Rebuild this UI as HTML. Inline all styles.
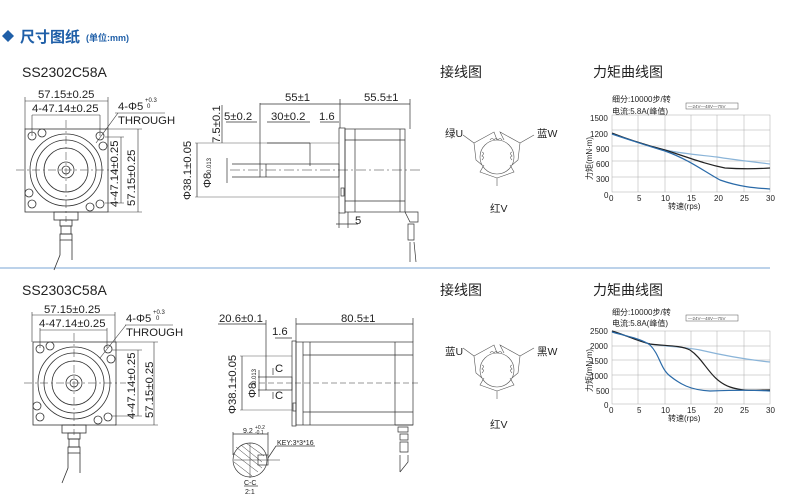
<!DOCTYPE html>
<html><head><meta charset="utf-8"><style>
html,body{margin:0;padding:0;background:#fff;}
svg{display:block;font-family:"Liberation Sans","Noto Sans CJK SC",sans-serif;}
</style></head><body>
<svg width="800" height="503" viewBox="0 0 800 503" xmlns="http://www.w3.org/2000/svg">
<defs>
<g id="front" fill="none" stroke="#333" stroke-width="0.8">
  <rect x="-41" y="-41" width="83" height="83"/>
  <circle r="36"/><circle r="30"/><circle r="22"/><circle r="8"/><circle r="4"/>
  <line x1="-50" y1="0" x2="52" y2="0" stroke-dasharray="8,3,2,3" stroke-width="0.5"/>
  <line x1="0" y1="-50" x2="0" y2="52" stroke-dasharray="8,3,2,3" stroke-width="0.5"/>
  <circle cx="-34" cy="-34" r="4"/><circle cx="34" cy="-34" r="4"/><circle cx="-34" cy="34" r="4"/><circle cx="34" cy="34" r="4"/>
  <circle cx="-24" cy="-37" r="4"/><circle cx="37" cy="-24" r="4"/><circle cx="-37" cy="23" r="4"/><circle cx="24" cy="37" r="4"/>
  <rect x="-12" y="42" width="24" height="8"/>
  <rect x="-6" y="50" width="12" height="6"/><rect x="-5" y="56" width="10" height="8"/><rect x="-6" y="64" width="12" height="6"/>
  <path d="M-6 70 L-6 85 L-12 100 M6 70 L6 90"/>
</g>
</defs>

<path d="M8 30 L14 36 L8 42 L2 36 Z" fill="#1f5fa8"/>
<text x="20" y="42" font-size="15" font-weight="bold" fill="#1f5fa8">尺寸图纸</text>
<text x="86" y="41" font-size="9" font-weight="bold" fill="#1f5fa8">(单位:mm)</text>
<line x1="0" y1="268" x2="770" y2="268" stroke="#7aa6d4" stroke-width="1"/>

<g font-size="14" fill="#222">
<text x="22" y="77">SS2302C58A</text>
<text x="440" y="77">接线图</text>
<text x="593" y="77">力矩曲线图</text>
<text x="22" y="295">SS2303C58A</text>
<text x="440" y="295">接线图</text>
<text x="593" y="295">力矩曲线图</text>
</g>

<use href="#front" x="66" y="170"/>
<g stroke="#333" stroke-width="0.6" fill="none">
<line x1="25" y1="97" x2="25" y2="129"/><line x1="108" y1="97" x2="108" y2="129"/>
<line x1="25" y1="101" x2="108" y2="101"/>
<line x1="32" y1="115" x2="32" y2="136"/><line x1="100" y1="115" x2="100" y2="136"/>
<line x1="32" y1="115" x2="100" y2="115"/>
<line x1="115" y1="113" x2="165" y2="113"/><line x1="118" y1="113" x2="96" y2="143"/>
<line x1="108" y1="129" x2="142" y2="129"/><line x1="108" y1="212" x2="142" y2="212"/>
<line x1="138" y1="129" x2="138" y2="212"/>
<line x1="105" y1="137" x2="124" y2="137"/><line x1="105" y1="203" x2="124" y2="203"/>
<line x1="121" y1="137" x2="121" y2="203"/>
</g>
<g font-size="11.3" fill="#222">
<text x="38" y="98">57.15±0.25</text>
<text x="32" y="112">4-47.14±0.25</text>
<text x="118" y="110">4-Φ5</text><text x="145" y="102" font-size="6">+0.3</text><text x="147" y="108" font-size="6">0</text>
<text x="118" y="124">THROUGH</text>
<text transform="translate(135,206) rotate(-90)">57.15±0.25</text>
<text transform="translate(118,207) rotate(-90)">4-47.14±0.25</text>
</g>

<g stroke="#333" stroke-width="0.7" fill="none">
<rect x="345" y="129" width="60" height="83"/>
<line x1="355" y1="129" x2="355" y2="212"/><line x1="400" y1="129" x2="400" y2="212"/>
<line x1="345" y1="140" x2="405" y2="140"/><line x1="345" y1="201" x2="405" y2="201"/>
<rect x="339" y="128" width="6" height="85"/>
<rect x="341" y="188" width="3" height="8"/>
<rect x="260" y="164" width="79" height="13"/>
<line x1="266" y1="164" x2="266" y2="177"/>
<line x1="267" y1="143" x2="310" y2="143"/><line x1="310" y1="143" x2="310" y2="166"/>
<line x1="232" y1="164" x2="260" y2="164"/><line x1="232" y1="177" x2="260" y2="177"/>
<line x1="195" y1="143" x2="339" y2="143" stroke-width="0.4"/>
<line x1="195" y1="197" x2="339" y2="197" stroke-width="0.4"/>
<line x1="197" y1="143" x2="197" y2="197"/><line x1="227" y1="158" x2="227" y2="183"/>
<line x1="222" y1="105" x2="222" y2="143"/>
<line x1="260" y1="103" x2="260" y2="164"/><line x1="340" y1="99" x2="340" y2="128"/><line x1="410" y1="99" x2="410" y2="129"/>
<line x1="260" y1="104" x2="340" y2="104"/><line x1="340" y1="104" x2="410" y2="104"/>
<line x1="226" y1="122" x2="257" y2="122"/><line x1="267" y1="122" x2="310" y2="122"/><line x1="320" y1="122" x2="339" y2="122"/>
<line x1="336" y1="224" x2="358" y2="224"/><line x1="339" y1="212" x2="339" y2="228"/><line x1="348" y1="212" x2="348" y2="228"/>
<line x1="230" y1="170" x2="420" y2="170" stroke-dasharray="10,3,2,3" stroke-width="0.5"/>
<path d="M405 212 L418 212 L418 222 L410 222 Z M408 224 L414 224 L414 240 L408 240 Z M410 242 L410 262 M414 242 L416 262"/>
</g>
<g font-size="11.3" fill="#222">
<text x="285" y="101">55±1</text><text x="364" y="101">55.5±1</text>
<text x="224" y="120">5±0.2</text><text x="271" y="120">30±0.2</text><text x="319" y="120">1.6</text>
<text transform="translate(220,143) rotate(-90)">7.5±0.1</text>
<text transform="translate(191,200) rotate(-90)">Φ38.1±0.05</text>
<text transform="translate(211,188) rotate(-90)">Φ8</text>
<text transform="translate(211,175) rotate(-90)" font-size="6">-0.013</text>
<text x="355" y="224">5</text>
</g>

<use href="#front" x="74" y="383"/>
<g stroke="#333" stroke-width="0.6" fill="none">
<line x1="32" y1="312" x2="32" y2="342"/><line x1="115" y1="312" x2="115" y2="342"/>
<line x1="32" y1="315" x2="115" y2="315"/>
<line x1="40" y1="328" x2="40" y2="348"/><line x1="107" y1="328" x2="107" y2="348"/>
<line x1="40" y1="330" x2="107" y2="330"/>
<line x1="125" y1="325" x2="173" y2="325"/><line x1="126" y1="325" x2="100" y2="358"/>
<line x1="115" y1="342" x2="158" y2="342"/><line x1="115" y1="425" x2="158" y2="425"/>
<line x1="154" y1="342" x2="154" y2="425"/>
<line x1="112" y1="350" x2="142" y2="350"/><line x1="112" y1="416" x2="142" y2="416"/>
<line x1="138" y1="350" x2="138" y2="416"/>
</g>
<g font-size="11.3" fill="#222">
<text x="44" y="313">57.15±0.25</text>
<text x="39" y="327">4-47.14±0.25</text>
<text x="126" y="322">4-Φ5</text><text x="153" y="314" font-size="6">+0.3</text><text x="156" y="320" font-size="6">0</text>
<text x="126" y="336">THROUGH</text>
<text transform="translate(153,418) rotate(-90)">57.15±0.25</text>
<text transform="translate(135,419) rotate(-90)">4-47.14±0.25</text>
</g>

<g stroke="#333" stroke-width="0.7" fill="none">
<rect x="296" y="342" width="117" height="83"/>
<line x1="303" y1="342" x2="303" y2="425"/><line x1="310" y1="342" x2="310" y2="425"/><line x1="395" y1="342" x2="395" y2="425"/>
<line x1="303" y1="355" x2="413" y2="355"/><line x1="303" y1="412" x2="413" y2="412"/>
<rect x="292" y="341" width="4" height="85"/>
<rect x="293" y="403" width="3" height="8"/>
<rect x="266" y="377" width="26" height="13"/>
<line x1="258" y1="377" x2="266" y2="377"/><line x1="258" y1="390" x2="266" y2="390"/>
<line x1="240" y1="356" x2="292" y2="356" stroke-width="0.4"/><line x1="240" y1="410" x2="292" y2="410" stroke-width="0.4"/>
<line x1="242" y1="356" x2="242" y2="410"/><line x1="259" y1="370" x2="259" y2="397"/>
<line x1="266" y1="320" x2="266" y2="377"/><line x1="296" y1="318" x2="296" y2="342"/><line x1="413" y1="318" x2="413" y2="342"/>
<line x1="218" y1="324" x2="266" y2="324"/><line x1="296" y1="324" x2="413" y2="324"/>
<line x1="275" y1="338" x2="292" y2="338"/>
<line x1="273" y1="368" x2="273" y2="375"/><line x1="273" y1="392" x2="273" y2="399"/>
<line x1="250" y1="383" x2="420" y2="383" stroke-dasharray="6,3" stroke-width="0.5"/>
<path d="M395 425 L413 425 M398 427 L408 427 L408 432 L398 432 Z M400 434 L408 434 L408 440 L400 440 Z M400 442 L408 442 L408 452 L400 452 Z M400 455 L400 472 M408 455 L408 462 L400 472"/>
<circle cx="250" cy="460" r="17"/>
<path d="M234 460 L280 460 M250 443 L250 478 M233 453 L258 472 M236 447 L262 468 M241 445 L262 462 M246 443 L264 456 M234 462 L252 476" stroke-width="0.5"/>
<rect x="258" y="455" width="10" height="10"/>
<line x1="233" y1="432" x2="233" y2="455"/><line x1="268" y1="432" x2="268" y2="455"/>
<line x1="233" y1="434" x2="268" y2="434"/>
<line x1="268" y1="458" x2="276" y2="446"/><line x1="276" y1="446" x2="315" y2="446"/>
<line x1="244" y1="486" x2="258" y2="486"/>
</g>
<g font-size="11.3" fill="#222">
<text x="219" y="322">20.6±0.1</text><text x="341" y="322">80.5±1</text>
<text x="272" y="335">1.6</text>
<text x="275" y="372">C</text><text x="275" y="399">C</text>
<text transform="translate(236,414) rotate(-90)">Φ38.1±0.05</text>
<text transform="translate(256,398) rotate(-90)">Φ8</text>
<text transform="translate(256,386) rotate(-90)" font-size="6">-0.013</text>
<text x="243" y="433" font-size="7">9.2</text><text x="255" y="429" font-size="5">+0.2</text><text x="255" y="434" font-size="5">-0.1</text>
<text x="277" y="445" font-size="7">KEY:3*3*16</text>
<text x="244" y="485" font-size="7">C-C</text><text x="245" y="494" font-size="7">2:1</text>
</g>

<g id="wire" stroke="#555" stroke-width="0.6" fill="none">
<circle cx="497" cy="157" r="17"/>
<path d="M474 143 L494 132 L497 140 M474 143 L476 160 L482 165 M520 143 L500 132 L504 140 M520 143 L518 160 L512 165 M497 178 L480 172 L484 165 M497 178 L514 172 L510 165 M497 178 L497 186"/>
<path d="M490 140 q2 -3 4 0 q2 -3 4 0 q2 -3 4 0 M482 152 q3 1 0 4 q3 1 0 4 M512 152 q-3 1 0 4 q-3 1 0 4"/>
<line x1="463" y1="135" x2="474" y2="143"/><line x1="520" y1="143" x2="534" y2="135"/>
</g>
<g font-size="10.5" fill="#222">
<text x="445" y="137">绿U</text><text x="537" y="137">蓝W</text><text x="490" y="212">红V</text>
</g>
<use href="#wire" y="213"/>
<g font-size="10.5" fill="#222">
<text x="445" y="355">蓝U</text><text x="537" y="355">黑W</text><text x="490" y="428">红V</text>
</g>

<g font-size="8" fill="#222">
<text x="612" y="102">细分:10000步/转</text><text x="612" y="114">电流:5.8A(峰值)</text>
<text x="590" y="121">1500</text><text x="590" y="137">1200</text><text x="596" y="152">900</text><text x="596" y="167">600</text><text x="596" y="182">300</text><text x="604" y="198">0</text>
<text x="609" y="201">0</text><text x="637" y="201">5</text><text x="661" y="201">10</text><text x="687" y="201">15</text><text x="714" y="201">20</text><text x="740" y="201">25</text><text x="766" y="201">30</text>
<text x="668" y="209">转速(rps)</text>
<text transform="translate(592,180) rotate(-90)">力矩(mN·m)</text>
</g>
<rect x="686" y="103" width="52" height="6" fill="none" stroke="#555" stroke-width="0.5"/>
<text x="688" y="108" font-size="4.5" fill="#555">—24V—48V—75V</text>
<g stroke="#aaa" stroke-width="0.5" fill="none">
<rect x="612" y="115" width="158" height="77"/>
<path d="M638 115V192M665 115V192M691 115V192M717 115V192M744 115V192M612 130H770M612 146H770M612 161H770M612 177H770"/>
</g>
<g fill="none" stroke-width="1.2">
<path d="M612 134 C630 140 645 145 665 150 C685 154 700 155 717 157 C735 160 755 162 770 164" stroke="#8ab4d8"/>
<path d="M612 133 C630 140 645 145 665 150 C690 158 705 164 725 168 C740 169 755 169 770 168" stroke="#222"/>
<path d="M612 134 C630 140 645 145 665 151 C690 160 705 172 720 180 C740 187 755 188 770 189" stroke="#2a6aa8"/>
</g>

<g font-size="8" fill="#222">
<text x="612" y="315">细分:10000步/转</text><text x="612" y="326">电流:5.8A(峰值)</text>
<text x="590" y="334">2500</text><text x="590" y="349">2000</text><text x="590" y="364">1500</text><text x="590" y="379">1000</text><text x="596" y="394">500</text><text x="604" y="408">0</text>
<text x="609" y="413">0</text><text x="637" y="413">5</text><text x="661" y="413">10</text><text x="687" y="413">15</text><text x="714" y="413">20</text><text x="740" y="413">25</text><text x="766" y="413">30</text>
<text x="668" y="421">转速(rps)</text>
<text transform="translate(592,392) rotate(-90)">力矩(mN·m)</text>
</g>
<rect x="686" y="315" width="52" height="6" fill="none" stroke="#555" stroke-width="0.5"/>
<text x="688" y="320" font-size="4.5" fill="#555">—24V—48V—75V</text>
<g stroke="#aaa" stroke-width="0.5" fill="none">
<rect x="612" y="331" width="158" height="73"/>
<path d="M638 331V404M665 331V404M691 331V404M717 331V404M744 331V404M612 346H770M612 360H770M612 375H770M612 389H770"/>
</g>
<g fill="none" stroke-width="1.2">
<path d="M612 331 C625 335 635 340 650 344 C670 347 685 347 700 350 C730 357 750 360 770 362" stroke="#8ab4d8"/>
<path d="M612 331 C625 335 635 340 650 344 C665 346 680 345 690 350 C705 360 710 380 730 387 C745 392 755 390 770 390" stroke="#222"/>
<path d="M612 332 C625 336 640 338 650 345 C660 355 660 368 670 376 C680 384 690 390 710 391 C740 390 755 390 770 391" stroke="#2a6aa8"/>
</g>
</svg>
</body></html>
